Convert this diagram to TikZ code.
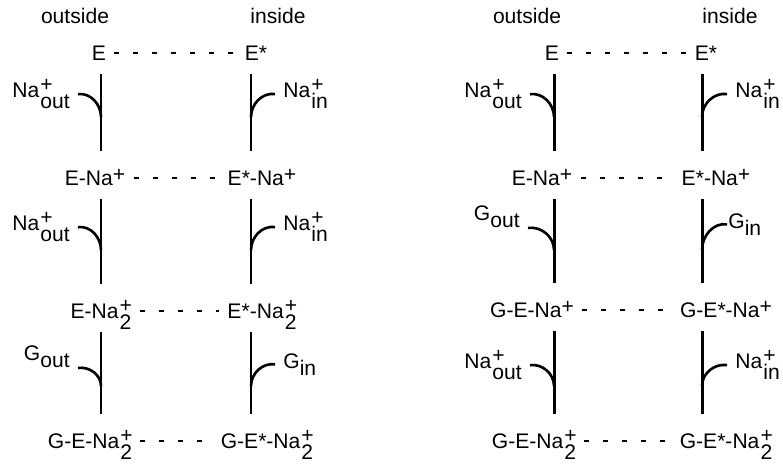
\documentclass[tikz,border=0pt]{standalone}
\usepackage{fontspec}
\setmainfont{Liberation Sans}

\newcommand{\pila}[2]{\kern0.05em\rlap{\raisebox{0.25em}{#1}}\raisebox{-0.55em}{#2}}
\newcommand{\sube}[1]{\raisebox{0.15em}{#1}}
\newcommand{\baja}[1]{\raisebox{-0.35em}{#1}}

\begin{document}
\begin{tikzpicture}[
        x=0.02cm, y=0.02cm,
        every node/.style={font=\fontsize{12}{14.4}\selectfont},
        especie/.style={inner sep=0pt, text height=0.28cm, text depth=0pt, anchor=base},
        ion/.style={inner xsep=0.16cm, inner ysep=0pt},
        eje/.style={line width=1.7pt, shorten <=0.28cm, shorten >=0.4cm},
        union/.style={line width=1.5pt},
        enlace/.style={line width=0.8pt, dash pattern=on 0.1cm off 0.28cm, shorten <=0.16cm, shorten >=0.16cm}
    ]
        \useasboundingbox (0,0) rectangle (783,-467);

        \node[anchor=base] (fa) at (75,-23) {outside};
        \node[anchor=base] (da) at (278,-23) {inside};
        \node[anchor=base] (fb) at (527,-23) {outside};
        \node[anchor=base] (db) at (730,-23) {inside};

        \node[especie] (oa1) at (99,-60) {E};
        \node[especie] (ia1) at (256,-60) {E*};
        \node[especie] (oa2) at (95,-185) {E-Na\sube{+}};
        \node[especie] (ia2) at (262,-185) {E*-Na\sube{+}};
        \node[especie] (oa3) at (101,-318) {E-Na\pila{+}{2}};
        \node[especie] (ia3) at (262,-318) {E*-Na\pila{+}{2}};
        \node[especie] (oa4) at (90,-448) {G-E-Na\pila{+}{2}};
        \node[especie] (ia4) at (267,-448) {G-E*-Na\pila{+}{2}};

        \node[especie] (ob1) at (552,-60) {E};
        \node[especie] (ib1) at (706,-60) {E*};
        \node[especie] (ob2) at (542,-185) {E-Na\sube{+}};
        \node[especie] (ib2) at (716,-185) {E*-Na\sube{+}};
        \node[especie] (ob3) at (532,-317) {G-E-Na\sube{+}};
        \node[especie] (ib3) at (726,-317) {G-E*-Na\sube{+}};
        \node[especie] (ob4) at (534,-448) {G-E-Na\pila{+}{2}};
        \node[especie] (ib4) at (726,-448) {G-E*-Na\pila{+}{2}};

        \coordinate (moa1) at (101,-117);
        \coordinate (moa2) at (101,-250);
        \coordinate (moa3) at (101,-386);
        \coordinate (mia1) at (251,-117);
        \coordinate (mia2) at (251,-250);
        \coordinate (mia3) at (251,-386);
        \coordinate (mob1) at (554,-117);
        \coordinate (mob2) at (554,-250);
        \coordinate (mob3) at (554,-386);
        \coordinate (mib1) at (702,-117);
        \coordinate (mib2) at (702,-250);
        \coordinate (mib3) at (702,-386);

        \node[ion, anchor=base east] (loa1) at (78,-97) {Na\pila{+}{out}};
        \node[ion, anchor=base east] (loa2) at (78,-230) {Na\pila{+}{out}};
        \node[ion, anchor=base east] (loa3) at (78,-360) {G\baja{out}};
        \node[ion, anchor=base west] (lia1) at (275,-97) {Na\pila{+}{in}};
        \node[ion, anchor=base west] (lia2) at (275,-230) {Na\pila{+}{in}};
        \node[ion, anchor=base west] (lia3) at (275,-368) {G\baja{in}};

        \node[ion, anchor=base east] (lob1) at (530,-97) {Na\pila{+}{out}};
        \node[ion, anchor=base east] (lob2) at (528,-220) {G\baja{out}};
        \node[ion, anchor=base east] (lob3) at (530,-368) {Na\pila{+}{out}};
        \node[ion, anchor=base west] (lib1) at (727,-97) {Na\pila{+}{in}};
        \node[ion, anchor=base west, inner xsep=0.02cm] (lib2) at (727,-228) {G\baja{in}};
        \node[ion, anchor=base west] (lib3) at (727,-368) {Na\pila{+}{in}};

        \draw[eje] (oa1.south -| moa1) -- (oa2.north -| moa1);
        \draw[eje] (oa2.south -| moa1) -- (oa3.north -| moa1);
        \draw[eje] (oa3.south -| moa1) -- (oa4.north -| moa1);
        \draw[eje] (ia1.south -| mia1) -- (ia2.north -| mia1);
        \draw[eje] (ia2.south -| mia1) -- (ia3.north -| mia1);
        \draw[eje] (ia3.south -| mia1) -- (ia4.north -| mia1);
        \draw[eje] (ob1.south -| mob1) -- (ob2.north -| mob1);
        \draw[eje] (ob2.south -| mob1) -- (ob3.north -| mob1);
        \draw[eje] (ob3.south -| mob1) -- (ob4.north -| mob1);
        \draw[eje] (ib1.south -| mib1) -- (ib2.north -| mib1);
        \draw[eje] (ib2.south -| mib1) -- (ib3.north -| mib1);
        \draw[eje] (ib3.south -| mib1) -- (ib4.north -| mib1);

        \draw[union] (loa1.east) to[out=8,in=90] (moa1);
        \draw[union] (loa2.east) to[out=8,in=90] (moa2);
        \draw[union] (loa3.south east) to[out=8,in=90] (moa3);
        \draw[union] (mia1) to[out=90,in=172] (lia1.west);
        \draw[union] (mia2) to[out=90,in=172] (lia2.west);
        \draw[union] (mia3) to[out=90,in=172] (lia3.west);
        \draw[union] (lob1.east) to[out=8,in=90] (mob1);
        \draw[union] (lob2.south east) to[out=8,in=90] (mob2);
        \draw[union] (lob3.east) to[out=8,in=90] (mob3);
        \draw[union] (mib1) to[out=90,in=172] (lib1.west);
        \draw[union] (mib2) to[out=90,in=172] (lib2.west);
        \draw[union] (mib3) to[out=90,in=172] (lib3.west);

        \draw[enlace] (oa1) -- (ia1);
        \draw[enlace] (oa2) -- (ia2);
        \draw[enlace] (oa3) -- (ia3);
        \draw[enlace] (oa4) -- (ia4);
        \draw[enlace] (ob1) -- (ib1);
        \draw[enlace] (ob2) -- (ib2);
        \draw[enlace] (ob3) -- (ib3);
        \draw[enlace] (ob4) -- (ib4);
    \end{tikzpicture}
\end{document}
